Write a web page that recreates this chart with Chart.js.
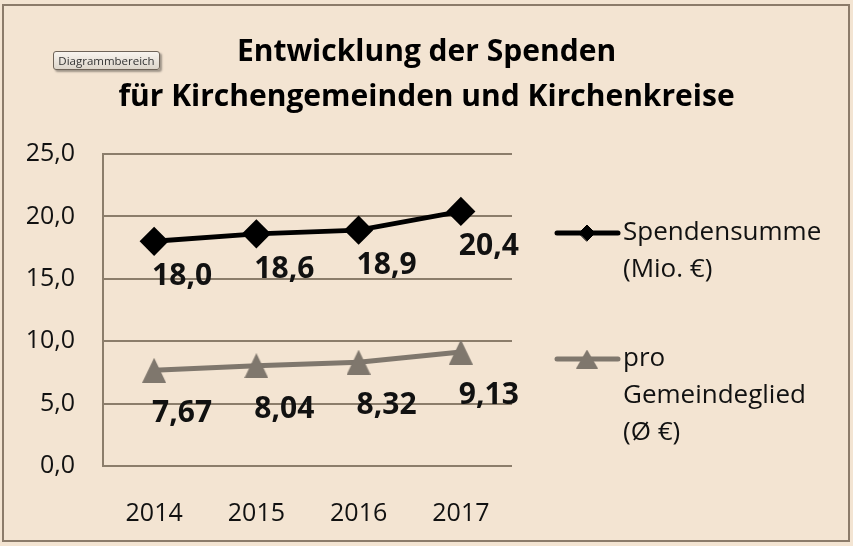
<!DOCTYPE html>
<html lang="de">
  <head>
    <meta charset="UTF-8" />
    <meta name="viewport" content="width=device-width, initial-scale=1.0" />
    <title>Spenden</title>
    <script src="https://cdn.jsdelivr.net/npm/chart.js@4.4.1/dist/chart.umd.min.js"></script>
    <style>
      body {
        margin: 0;
        background: #f3e4d2;
      }
      #wrap {
        position: relative;
        width: 853px;
        height: 546px;
      }
      #frame {
        position: absolute;
        left: 2px;
        top: 4px;
        width: 848px;
        height: 538px;
        box-sizing: border-box;
        border: 2px solid #8b7b6a;
        pointer-events: none;
      }
      #tip {
        position: absolute;
        left: 53px;
        top: 51px;
        width: 107px;
        height: 19px;
        box-sizing: border-box;
        border: 1px solid #6e6358;
        border-radius: 3px;
        background: linear-gradient(#f8f4ef, #ded6cb);
        box-shadow: 2px 2px 2px rgba(0, 0, 0, 0.35);
        font: 11.5px "Open Sans", sans-serif;
        color: #333;
        text-align: center;
        line-height: 17px;
      }
    </style>
  </head>
  <body>
    <div id="wrap">
      <canvas id="myChart" width="853" height="546"></canvas>
      <div id="frame"></div>
      <div id="tip">Diagrammbereich</div>
    </div>

    <script>
      const titleLines = ["Entwicklung der Spenden", "für Kirchengemeinden und Kirchenkreise"];
      const years = ["2014", "2015", "2016", "2017"];
      const spendensumme = [18.0, 18.6, 18.9, 20.4];
      const proGemeindeglied = [7.67, 8.04, 8.32, 9.13];
      const yTicks = [0, 5, 10, 15, 20, 25];

      const gridColor = "#8b7d6b";
      const grayLine = "#7f776d";

      Chart.defaults.font.family = "'Open Sans', sans-serif";
      Chart.defaults.color = "#111";

      const fmt = (v, d) => v.toFixed(d).replace(".", ",");

      // triangle centred on the point, like the office marker
      function triangleImg(w, h, color) {
        const c = document.createElement("canvas");
        c.width = w;
        c.height = h;
        const g = c.getContext("2d");
        g.fillStyle = color;
        g.beginPath();
        g.moveTo(w / 2, 0);
        g.lineTo(w, h);
        g.lineTo(0, h);
        g.closePath();
        g.fill();
        return c;
      }
      const triBig = triangleImg(24, 25, grayLine);
      const triSmall = triangleImg(22, 19, grayLine);

      // title drawn over the full width of the canvas
      const bigTitle = {
        id: "bigTitle",
        afterDraw(chart) {
          const ctx = chart.ctx;
          ctx.save();
          ctx.font = "bold 30px 'Open Sans'";
          ctx.fillStyle = "#000";
          ctx.textAlign = "center";
          ctx.textBaseline = "middle";
          ctx.fillText(titleLines[0], chart.width / 2, 52);
          ctx.fillText(titleLines[1], chart.width / 2, 97);
          ctx.restore();
        },
      };

      // value labels below/right of each point
      const valueLabels = {
        id: "valueLabels",
        afterDatasetsDraw(chart) {
          const ctx = chart.ctx;
          ctx.save();
          ctx.font = "bold 30px 'Open Sans'";
          ctx.fillStyle = "#111";
          ctx.textAlign = "center";
          ctx.textBaseline = "alphabetic";
          chart.data.datasets.forEach((ds, i) => {
            chart.getDatasetMeta(i).data.forEach((pt, j) => {
              ctx.fillText(fmt(ds.data[j], ds.decimals), pt.x + 28, pt.y + ds.labelDy);
            });
          });
          ctx.restore();
        },
      };

      // legend on the right with wrapped text
      const sideLegend = {
        id: "sideLegend",
        afterDraw(chart) {
          const ctx = chart.ctx;
          const x0 = chart.chartArea.right + 45;
          const rows = [
            { y: 233, lines: ["Spendensumme", "(Mio. €)"] },
            { y: 359, lines: ["pro", "Gemeindeglied", "(Ø €)"] },
          ];
          ctx.save();
          chart.data.datasets.forEach((ds, i) => {
            const r = rows[i];
            ctx.strokeStyle = ds.borderColor;
            ctx.lineWidth = ds.borderWidth;
            ctx.lineCap = "round";
            ctx.beginPath();
            ctx.moveTo(x0, r.y);
            ctx.lineTo(x0 + 61, r.y);
            ctx.stroke();
            ctx.fillStyle = ds.pointBackgroundColor;
            ctx.strokeStyle = ds.pointBorderColor;
            ctx.lineWidth = 1;
            Chart.helpers.drawPoint(ctx, {
              pointStyle: ds.legendStyle,
              radius: ds.legendRadius,
              rotation: 0,
              borderWidth: 1,
            }, x0 + 30, r.y);
            ctx.fillStyle = "#111";
            ctx.font = "26px 'Open Sans'";
            ctx.textAlign = "left";
            ctx.textBaseline = "middle";
            r.lines.forEach((t, k) => {
              ctx.fillText(t, x0 + 66, r.y + k * 37);
            });
          });
          ctx.restore();
        },
      };

      const ctx = document.getElementById("myChart").getContext("2d");
      const myChart = new Chart(ctx, {
        type: "line",
        data: {
          labels: years,
          datasets: [
            {
              label: "Spendensumme (Mio. €)",
              data: spendensumme,
              decimals: 1,
              labelDy: 44,
              borderColor: "#000",
              borderWidth: 5,
              pointStyle: "rectRot",
              pointRadius: 11,
              pointBackgroundColor: "#000",
              pointBorderColor: "#000",
              legendStyle: "rectRot",
              legendRadius: 8,
            },
            {
              label: "pro Gemeindeglied (Ø €)",
              data: proGemeindeglied,
              decimals: 2,
              labelDy: 52,
              borderColor: grayLine,
              borderWidth: 5,
              pointStyle: triBig,
              pointRadius: 12,
              pointBackgroundColor: grayLine,
              pointBorderColor: grayLine,
              legendStyle: triSmall,
              legendRadius: 10,
            },
          ],
        },
        options: {
          responsive: false,
          animation: false,
          layout: {
            padding: { left: 0, right: 341, top: 154, bottom: 0 },
          },
          plugins: {
            legend: { display: false },
            tooltip: { enabled: false },
            title: { display: false },
          },
          scales: {
            x: {
              offset: true,
              grid: { display: false },
              border: { display: false },
              ticks: { font: { size: 25 }, padding: 25, color: "#111" },
              afterFit(scale) {
                scale.height = 80;
              },
            },
            y: {
              min: 0,
              max: 25,
              afterBuildTicks(scale) {
                scale.ticks = yTicks.map((v) => ({ value: v }));
              },
              grid: { color: gridColor, lineWidth: 2, drawTicks: false },
              border: { display: true, color: gridColor, width: 2 },
              ticks: {
                font: { size: 25 },
                padding: 28,
                color: "#111",
                callback: (v) => fmt(v, 1),
              },
              afterFit(scale) {
                scale.width = 103;
              },
            },
          },
        },
        plugins: [bigTitle, valueLabels, sideLegend],
      });
    </script>
  </body>
</html>
